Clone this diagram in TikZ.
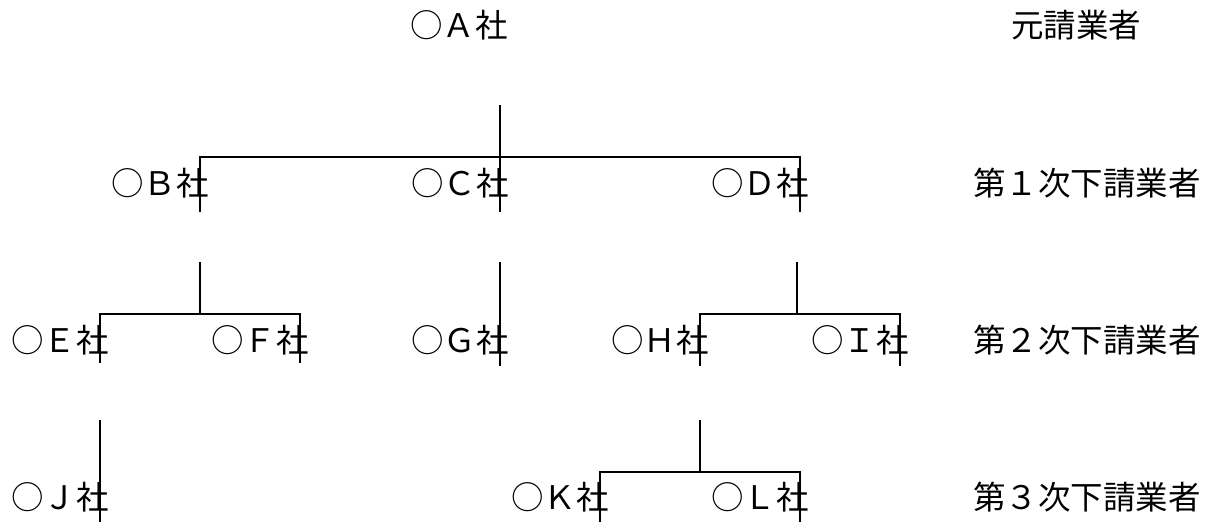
\documentclass[tikz,border=0pt]{standalone}
\usepackage{fontspec}
\setmainfont{Noto Sans CJK JP}
\begin{document}
\begin{tikzpicture}[x=1pt,y=-1pt,
  co/.style={inner sep=0pt,font=\fontsize{32.5}{36}\selectfont},
  conn/.style={line width=2pt}]
\useasboundingbox (0,0) rectangle (1219,530);
% row labels
\node[co] (L0) at (1076,25) {元請業者};
\node[co] (L1) at (1087,183) {第１次下請業者};
\node[co] (L2) at (1087,340) {第２次下請業者};
\node[co] (L3) at (1087,497) {第３次下請業者};
% companies
\node[co] (A) at (459,25) {○Ａ社};
\node[co] (B) at (160,183) {○Ｂ社};
\node[co] (C) at (460,183) {○Ｃ社};
\node[co] (D) at (760,183) {○Ｄ社};
\node[co] (E) at (60,340) {○Ｅ社};
\node[co] (F) at (260,340) {○Ｆ社};
\node[co] (G) at (460,340) {○Ｇ社};
\node[co] (H) at (660,340) {○Ｈ社};
\node[co] (I) at (860,340) {○Ｉ社};
\node[co] (J) at (60,497) {○Ｊ社};
\node[co] (K) at (560,497) {○Ｋ社};
\node[co] (Lc) at (760,497) {○Ｌ社};
% level 0 -> 1
\coordinate (a1) at (500,105);
\coordinate (a2) at (500,157);
\coordinate (bt) at (200,157);
\coordinate (bb) at (200,212);
\coordinate (cb) at (500,212);
\coordinate (dt) at (800,157);
\coordinate (db) at (800,212);
\draw[conn] (a1) -- (cb);
\draw[conn] (bb) -- (bt) -- (dt) -- (db);
% B -> E, F
\coordinate (b1) at (200,262);
\coordinate (b2) at (200,314);
\coordinate (et) at (100,314);
\coordinate (eb) at (100,363);
\coordinate (ft) at (300,314);
\coordinate (fb) at (300,363);
\draw[conn] (b1) -- (b2);
\draw[conn] (eb) -- (et) -- (ft) -- (fb);
% C -> G
\coordinate (c1) at (500,262);
\coordinate (gb) at (500,366);
\draw[conn] (c1) -- (gb);
% D -> H, I
\coordinate (d1) at (797,262);
\coordinate (d2) at (797,314);
\coordinate (ht) at (700,314);
\coordinate (hb) at (700,366);
\coordinate (it) at (900,314);
\coordinate (ib) at (900,366);
\draw[conn] (d1) -- (d2);
\draw[conn] (hb) -- (ht) -- (it) -- (ib);
% E -> J
\coordinate (e1) at (100,420);
\coordinate (jb) at (100,522);
\draw[conn] (e1) -- (jb);
% H -> K, L
\coordinate (h1) at (700,420);
\coordinate (h2) at (700,472);
\coordinate (kt) at (600,472);
\coordinate (kb) at (600,522);
\coordinate (lt) at (800,472);
\coordinate (lb) at (800,522);
\draw[conn] (h1) -- (h2);
\draw[conn] (kb) -- (kt) -- (lt) -- (lb);
\end{tikzpicture}
\end{document}
